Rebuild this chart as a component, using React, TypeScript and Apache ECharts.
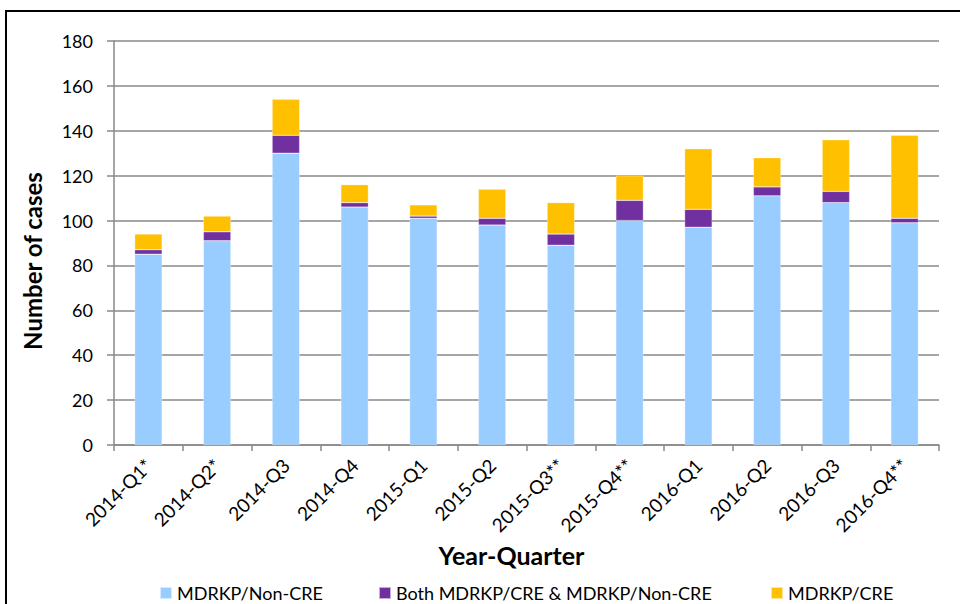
import React, { useEffect, useRef } from "react";
import * as echarts from "echarts";

const categories = [
  "2014-Q1*", "2014-Q2*", "2014-Q3", "2014-Q4",
  "2015-Q1", "2015-Q2", "2015-Q3**", "2015-Q4**",
  "2016-Q1", "2016-Q2", "2016-Q3", "2016-Q4**",
];
const nonCre = [85, 91, 130, 106, 101, 98, 89, 100, 97, 111, 108, 99];
const both = [2, 4, 8, 2, 1, 3, 5, 9, 8, 4, 5, 2];
const cre = [7, 7, 16, 8, 5, 13, 14, 11, 27, 13, 23, 37];
const seriesNames = ["MDRKP/Non-CRE", "Both MDRKP/CRE & MDRKP/Non-CRE", "MDRKP/CRE"];
const colors = ["#99CCFF", "#7030A0", "#FFC000"];

const FONT = "Lato, 'Noto Sans', sans-serif";

export default function App() {
  const ref = useRef<HTMLDivElement>(null);
  useEffect(() => {
    if (!ref.current) return;
    const chart = echarts.init(ref.current, null, { renderer: "svg" });
    const data = [nonCre, both, cre];
    const legendLeft = [154, 373, 765];
    chart.setOption({
      animation: false,
      backgroundColor: "#ffffff",
      textStyle: { fontFamily: FONT },
      grid: { left: 114, right: 21, top: 41, bottom: 159, containLabel: false },
      legend: seriesNames.map((n, i) => ({
        data: [n],
        left: legendLeft[i],
        top: 579,
        icon: "rect",
        itemWidth: 12,
        itemHeight: 12,
        itemGap: 6,
        textStyle: { fontSize: 18, color: "#000", fontFamily: FONT },
        selectedMode: false,
      })),
      xAxis: {
        type: "category",
        data: categories,
        name: "Year-Quarter",
        nameLocation: "middle",
        nameGap: 97,
        nameTextStyle: { fontSize: 25, fontWeight: "bold", color: "#000", fontFamily: FONT, padding: [0, 30, 0, 0] },
        axisLine: { lineStyle: { color: "#898989", width: 1.5 } },
        axisTick: { show: true, length: 6, lineStyle: { color: "#898989", width: 1.5 } },
        axisLabel: { rotate: 45, fontSize: 19, color: "#000", margin: 17, interval: 0, fontFamily: FONT },
      },
      yAxis: {
        type: "value",
        min: 0,
        max: 180,
        interval: 20,
        name: "Number of cases",
        nameLocation: "middle",
        nameGap: 70,
        nameRotate: 90,
        nameTextStyle: { fontSize: 24, fontWeight: "bold", color: "#000", fontFamily: FONT, padding: [0, 36, 0, 0] },
        axisLine: { show: true, lineStyle: { color: "#898989", width: 1.5 } },
        axisTick: { show: true, inside: false, length: 7, lineStyle: { color: "#898989", width: 1.5 } },
        axisLabel: { fontSize: 18, color: "#000", margin: 21, fontFamily: FONT },
        splitLine: { show: true, lineStyle: { color: "#898989", width: 1.5 } },
      },
      series: seriesNames.map((n, i) => ({
        name: n,
        type: "bar",
        stack: "total",
        data: data[i],
        barWidth: "40%",
        itemStyle: { color: colors[i], borderColor: "rgba(255,255,255,0.6)", borderWidth: 0.5 },
      })),
      graphic: [
        { type: "line", shape: { x1: 5, y1: 11, x2: 960, y2: 11 }, style: { stroke: "#000", lineWidth: 2 } },
        { type: "line", shape: { x1: 6, y1: 10, x2: 6, y2: 604 }, style: { stroke: "#000", lineWidth: 2 } },
      ],
    });
    return () => chart.dispose();
  }, []);
  return (
    <div
      ref={ref}
      style={{ position: "fixed", left: 0, top: 0, width: 960, height: 604, background: "#fff" }}
    />
  );
}
